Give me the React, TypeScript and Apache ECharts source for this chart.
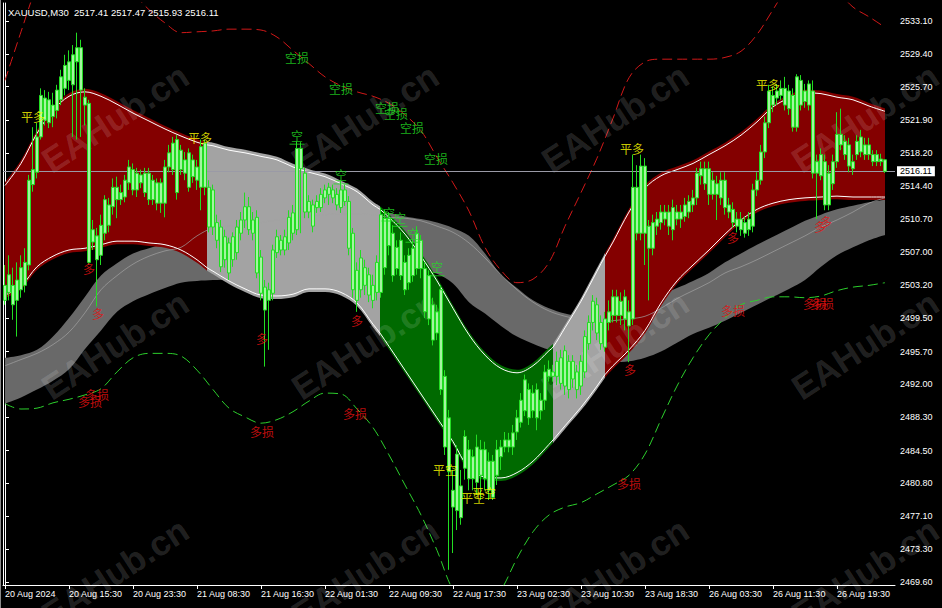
import React, { useEffect, useRef } from "react";
import * as echarts from "echarts";

const symbolName = "XAUUSD,M30";
const xTickLabels = [
  "20 Aug 2024", "20 Aug 15:30", "20 Aug 23:30", "21 Aug 08:30", "21 Aug 16:30",
  "22 Aug 01:30", "22 Aug 09:30", "22 Aug 17:30", "23 Aug 02:30", "23 Aug 10:30",
  "23 Aug 18:30", "26 Aug 03:30", "26 Aug 11:30", "26 Aug 19:30",
];
const yTickValues = [
  2469.6, 2473.3, 2477.1, 2480.8, 2484.5, 2488.3, 2492.0, 2495.7, 2499.5,
  2503.2, 2507.0, 2510.7, 2514.4, 2518.2, 2521.9, 2525.7, 2529.4, 2533.1,
];
const barsPerLabel = 16;
const slotCount = 223;
const yMin = 2469.28;
const yMax = 2535.16;

// [open, close, low, high]
const candles = [
  [2503.2,2501.5,2501.0,2505.5],[2502.4,2504.4,2501.5,2506.6],[2503.2,2501.0,2499.3,2505.2],[2501.5,2503.8,2497.4,2505.8],[2502.7,2505.2,2501.8,2506.6],
  [2503.2,2505.8,2502.4,2507.4],[2505.5,2515.1,2504.9,2515.7],[2514.6,2516.3,2513.8,2521.1],[2516.0,2520.0,2515.3,2521.6],[2520.0,2524.7,2519.7,2525.5],
  [2524.4,2521.9,2521.3,2525.3],[2521.6,2524.2,2521.0,2525.1],[2523.6,2522.3,2521.1,2525.0],[2523.0,2525.3,2522.1,2525.9],[2524.2,2526.8,2523.6,2527.6],
  [2525.5,2528.1,2524.7,2529.3],[2528.5,2526.4,2525.3,2529.8],[2525.9,2529.3,2520.0,2530.4],[2528.5,2530.1,2519.7,2531.8],[2530.1,2525.3,2520.0,2531.0],
  [2524.5,2523.6,2521.3,2525.5],[2523.8,2505.8,2505.5,2524.2],[2508.1,2509.5,2507.2,2510.6],[2508.8,2506.1,2500.8,2509.7],[2506.6,2510.0,2505.5,2511.2],
  [2509.1,2512.9,2508.3,2513.4],[2512.3,2510.0,2509.2,2513.1],[2512.1,2514.3,2511.2,2515.3],[2514.3,2512.9,2510.8,2515.5],[2512.9,2513.7,2512.3,2514.6],
  [2513.2,2515.1,2512.6,2515.7],[2514.8,2516.6,2514.0,2517.4],[2516.3,2514.0,2513.4,2517.0],[2514.0,2515.9,2513.2,2516.5],[2515.7,2514.8,2514.2,2516.3],
  [2513.7,2515.9,2513.2,2516.5],[2515.9,2512.9,2512.3,2516.5],[2512.9,2515.1,2512.3,2515.7],[2514.8,2512.5,2511.7,2515.3],[2512.5,2514.8,2511.4,2515.3],
  [2512.5,2516.6,2510.9,2517.4],[2516.6,2518.2,2516.0,2519.1],[2516.3,2519.3,2515.7,2520.0],[2519.7,2513.7,2512.9,2520.2],[2516.3,2518.5,2515.7,2519.1],
  [2517.4,2515.9,2515.1,2518.3],[2514.3,2518.2,2513.8,2518.7],[2517.4,2515.5,2514.8,2518.0],[2516.6,2515.1,2514.0,2517.4],[2514.3,2518.9,2511.7,2519.7],
  [2519.3,2514.3,2513.4,2519.7],[2514.3,2509.8,2509.2,2515.1],[2509.8,2514.0,2508.9,2514.6],[2510.3,2508.3,2507.4,2511.2],[2509.8,2505.3,2504.7,2510.6],
  [2506.1,2508.7,2505.2,2509.5],[2508.0,2504.6,2503.8,2508.6],[2506.1,2508.7,2505.3,2509.2],[2506.9,2509.8,2506.1,2510.6],[2509.1,2510.6,2508.3,2511.5],
  [2510.6,2512.1,2509.7,2513.7],[2512.1,2509.5,2508.9,2513.2],[2510.6,2509.1,2508.3,2511.5],[2510.9,2504.6,2504.0,2511.7],[2506.4,2502.3,2501.5,2507.2],
  [2503.0,2500.4,2494.0,2503.8],[2501.5,2502.7,2495.9,2503.5],[2502.3,2507.2,2501.5,2507.8],[2506.9,2508.7,2506.3,2509.5],[2508.3,2507.2,2506.6,2508.9],
  [2507.2,2508.7,2506.6,2509.5],[2508.0,2510.9,2507.2,2511.7],[2511.4,2509.1,2508.3,2512.3],[2509.5,2518.7,2508.9,2519.5],[2518.7,2516.4,2509.1,2519.4],
  [2515.9,2511.5,2510.8,2516.5],[2511.5,2512.7,2510.8,2513.4],[2512.3,2509.9,2509.2,2512.9],[2512.0,2512.7,2511.4,2513.4],[2512.0,2513.5,2511.5,2514.2],
  [2513.1,2514.0,2512.5,2514.6],[2513.5,2514.3,2512.3,2514.8],[2514.0,2513.1,2512.5,2514.6],[2513.5,2512.3,2511.7,2514.2],[2512.0,2514.0,2511.4,2515.1],
  [2514.0,2512.7,2512.2,2514.6],[2512.7,2507.4,2506.6,2513.3],[2509.1,2502.7,2501.8,2509.7],[2504.9,2501.5,2500.2,2505.8],[2502.7,2506.3,2501.8,2507.2],
  [2505.2,2503.2,2502.1,2506.1],[2504.4,2502.1,2501.3,2505.2],[2503.2,2501.5,2500.6,2504.4],[2502.4,2505.8,2501.5,2506.6],[2502.4,2511.2,2501.8,2512.0],
  [2510.8,2505.2,2504.4,2511.7],[2507.7,2510.8,2506.6,2511.5],[2509.1,2504.3,2503.6,2510.0],[2505.1,2507.5,2504.4,2508.3],[2508.3,2504.3,2503.8,2509.2],
  [2505.8,2502.7,2502.1,2506.6],[2503.5,2506.6,2502.7,2507.4],[2504.3,2507.4,2503.6,2508.3],[2505.1,2509.1,2504.4,2509.9],[2508.3,2505.1,2504.0,2508.9],
  [2505.1,2500.2,2499.5,2505.8],[2504.3,2499.4,2498.7,2504.9],[2501.0,2497.0,2496.4,2501.8],[2497.8,2500.2,2497.0,2501.0],[2502.7,2491.4,2490.8,2503.2],
  [2492.9,2484.9,2484.0,2493.6],[2488.2,2482.1,2471.0,2489.1],[2480.0,2478.1,2472.9,2482.3],[2477.7,2484.1,2475.5,2485.1],[2480.5,2476.9,2476.1,2482.3],
  [2482.5,2486.1,2481.2,2486.8],[2484.6,2481.3,2480.0,2485.7],[2481.3,2483.8,2480.0,2484.6],[2484.9,2480.9,2479.5,2486.3],[2481.7,2484.6,2478.9,2485.7],
  [2484.6,2481.3,2480.0,2485.5],[2483.3,2480.0,2478.9,2484.3],[2479.2,2483.3,2478.9,2484.0],[2481.7,2484.6,2480.6,2485.7],[2483.8,2484.9,2482.3,2485.7],
  [2484.9,2485.7,2484.3,2486.6],[2485.7,2484.9,2484.3,2486.5],[2484.9,2486.5,2484.0,2487.4],[2486.6,2488.2,2485.7,2489.1],[2487.7,2490.2,2487.1,2491.0],
  [2489.0,2492.5,2488.4,2493.1],[2491.4,2488.2,2487.4,2492.1],[2489.0,2491.0,2488.2,2491.9],[2491.4,2488.2,2486.8,2492.1],[2489.0,2490.2,2488.0,2491.0],
  [2490.2,2493.4,2489.1,2494.2],[2492.9,2493.7,2492.3,2494.7],[2493.4,2492.9,2492.3,2494.2],[2492.9,2494.6,2491.9,2495.7],[2495.0,2492.1,2491.4,2495.9],
  [2491.8,2495.8,2490.8,2496.4],[2494.6,2491.4,2490.4,2495.3],[2492.6,2494.6,2491.6,2495.3],[2493.4,2491.4,2490.4,2494.2],[2491.8,2494.6,2490.8,2495.3],
  [2493.4,2497.4,2492.7,2498.1],[2496.6,2499.0,2495.9,2499.8],[2499.0,2501.4,2498.1,2502.1],[2501.0,2497.8,2497.0,2501.8],[2499.0,2496.6,2495.9,2499.8],
  [2496.2,2499.4,2495.7,2500.2],[2499.0,2500.2,2498.1,2501.5],[2499.8,2501.9,2499.0,2502.7],[2501.9,2499.8,2499.0,2502.7],[2499.8,2501.4,2498.7,2502.4],
  [2501.9,2499.4,2498.1,2502.7],[2500.2,2498.6,2494.5,2501.5],[2499.4,2514.3,2498.7,2518.0],[2514.3,2509.1,2508.3,2516.8],[2509.1,2516.7,2508.3,2518.0],
  [2516.7,2509.1,2505.5,2517.6],[2509.9,2507.4,2501.5,2510.6],[2507.4,2510.3,2506.6,2511.2],[2509.9,2510.7,2508.9,2511.5],[2510.3,2511.5,2509.5,2512.3],
  [2511.5,2510.7,2510.0,2512.3],[2509.9,2511.5,2508.9,2512.3],[2512.0,2509.5,2508.3,2512.9],[2510.7,2511.5,2510.0,2512.3],[2511.5,2510.7,2509.7,2512.3],
  [2511.0,2512.3,2510.4,2513.1],[2511.5,2512.7,2510.8,2513.4],[2512.3,2513.1,2511.5,2514.0],[2513.1,2515.9,2512.3,2516.5],[2515.6,2516.4,2514.6,2517.2],
  [2516.4,2514.7,2514.0,2517.2],[2513.5,2516.4,2512.3,2517.2],[2515.1,2513.5,2512.9,2516.0],[2513.5,2514.7,2510.6,2515.6],[2513.1,2515.1,2512.3,2516.0],
  [2515.1,2512.0,2511.2,2516.0],[2512.3,2511.5,2510.8,2513.1],[2511.8,2510.3,2509.7,2512.6],[2510.7,2509.9,2509.2,2511.5],[2510.7,2509.5,2508.8,2511.5],
  [2509.1,2510.3,2508.6,2511.0],[2509.5,2510.7,2508.8,2511.5],[2509.9,2514.0,2509.2,2514.7],[2514.0,2515.1,2513.3,2516.0],[2515.1,2518.3,2514.6,2519.1],
  [2518.3,2521.6,2517.6,2522.3],[2521.6,2525.2,2521.0,2525.9],[2524.7,2523.6,2522.8,2525.7],[2524.4,2525.2,2523.6,2526.0],[2524.7,2525.5,2524.2,2526.4],
  [2525.5,2523.6,2523.0,2526.8],[2523.2,2525.2,2522.5,2525.9],[2524.7,2521.1,2520.6,2525.5],[2521.1,2526.8,2520.6,2527.1],[2526.4,2523.6,2523.0,2527.0],
  [2524.0,2525.2,2523.3,2526.0],[2523.6,2526.0,2523.0,2526.4],[2525.2,2515.9,2515.3,2526.4],[2515.9,2517.2,2510.7,2518.0],[2518.0,2515.6,2515.1,2518.7],
  [2517.2,2512.3,2511.7,2518.0],[2512.3,2515.9,2511.7,2516.8],[2514.7,2517.2,2514.0,2518.0],[2517.2,2520.3,2516.5,2522.8],[2520.3,2519.1,2518.5,2523.2],
  [2519.5,2518.0,2517.4,2520.2],[2519.1,2516.7,2516.0,2519.9],[2517.2,2516.4,2515.7,2518.0],[2518.0,2519.5,2517.4,2520.2],[2518.3,2520.0,2517.7,2520.8],
  [2519.1,2518.0,2517.4,2519.9],[2518.0,2519.1,2517.4,2519.9],[2518.0,2517.2,2516.7,2518.5],[2517.2,2518.0,2516.7,2518.5],[2517.5,2517.2,2516.7,2518.1],
  [2517.41,2516.11,2515.93,2517.47],
];

// channel (white lines) sampled at bar positions
const bandX = [
  0,4,8,12,16,20,24,28,32,36,40,44,48,50.5,52,56,60,64,68,72,76,80,84,88,92,93.75,
  96,100,104,108,112,116,120,124,128,132,136,137,140,144,148,150,
  152,156,160,164,168,172,176,180,184,188,192,196,200,204,208,212,216,220,
];
const bandUpper = [
  2514.5,2517.0,2520.4,2523.0,2524.6,2525.1,2524.6,2523.7,2522.7,2521.8,2520.9,2520.1,2519.4,2519.1,2519.0,2518.5,2518.2,2517.8,2517.4,2516.6,2516.0,2515.5,2514.7,2513.8,2512.3,2511.8,
  2510.9,2509.0,2506.5,2503.7,2500.6,2497.6,2495.3,2493.8,2493.3,2494.1,2495.8,2496.2,2498.4,2501.4,2504.8,2506.5,
  2508.1,2511.5,2514.2,2515.6,2516.3,2517.0,2518.0,2519.0,2520.2,2521.7,2523.4,2524.4,2525.0,2524.9,2524.5,2524.2,2523.5,2522.9,
];
const bandLower = [
  2502.1,2503.1,2505.3,2506.5,2507.2,2507.4,2507.8,2508.2,2508.2,2508.0,2507.8,2507.2,2506.1,2505.2,2504.8,2503.7,2502.8,2502.1,2502.0,2502.2,2502.8,2502.8,2502.4,2501.2,2498.8,2497.8,
  2496.3,2493.6,2490.9,2488.2,2485.5,2482.5,2481.5,2481.4,2482.0,2483.3,2485.2,2485.7,2487.3,2489.4,2491.8,2493.1,
  2494.1,2495.9,2498.1,2501.2,2503.7,2505.5,2507.2,2509.0,2510.6,2511.8,2512.5,2512.9,2513.1,2513.2,2513.3,2513.2,2513.2,2513.2,
];
// regime boundaries (bar units) and kinds
const regimeBreaks = [0, 50.5, 93.75, 137, 150, 220];
const regimeKinds = ["long", "flat", "short", "flat", "long"];

// slow channel + envelopes, every 4 bars
const envX = [
  0,4,8,12,16,20,24,28,32,36,40,44,48,52,56,60,64,68,72,76,80,84,88,92,96,100,104,108,
  112,116,120,124,128,132,136,140,144,148,152,156,160,164,168,172,176,180,184,188,192,196,200,204,208,212,216,220,
];
const slowTop = [
  2495.0,2495.3,2495.9,2497.4,2499.5,2501.9,2504.3,2505.7,2506.8,2507.4,2507.9,2508.1,2508.3,2508.6,2508.9,2509.2,2509.6,2510.0,2510.4,2510.7,2511.0,2511.4,2511.6,2511.7,2511.4,2511.0,2510.7,2510.3,
  2509.7,2508.8,2506.8,2504.4,2502.9,2501.5,2500.6,2500.0,2499.7,2499.8,2500.3,2501.0,2501.5,2502.2,2502.9,2503.7,2504.6,2505.8,2506.8,2507.8,2508.7,2509.6,2510.5,2511.2,2511.8,2512.2,2512.6,2512.9,
];
const slowBottom = [
  2489.8,2490.5,2491.4,2492.4,2493.7,2496.0,2498.1,2500.2,2501.4,2502.2,2502.9,2503.5,2503.7,2503.8,2503.9,2504.0,2504.3,2504.5,2504.7,2504.9,2505.2,2505.3,2505.4,2505.4,2505.3,2505.2,2504.9,2504.5,
  2503.4,2501.3,2500.0,2498.6,2497.4,2496.6,2495.9,2495.2,2494.7,2494.5,2494.5,2494.6,2495.0,2495.7,2496.7,2497.7,2498.4,2499.2,2500.1,2501.0,2501.9,2502.8,2503.8,2505.3,2506.6,2507.5,2508.3,2508.9,
];
const slowMid = [
  2494.1,2494.8,2495.5,2496.5,2497.9,2500.1,2502.7,2504.3,2505.6,2506.5,2507.1,2507.5,2508.8,2509.7,2509.9,2510.0,2510.3,2510.6,2510.8,2511.0,2511.2,2511.3,2511.3,2511.2,2510.9,2510.8,2510.5,2509.9,
  2509.2,2508.0,2506.3,2504.4,2502.7,2501.3,2500.3,2499.7,2499.3,2499.0,2499.2,2499.4,2499.7,2500.6,2501.7,2502.6,2503.5,2504.6,2505.3,2506.1,2507.0,2507.9,2508.8,2509.8,2510.6,2511.5,2512.5,2513.1,
];
const upperStop = [
  2526.4,2531.9,2537.2,2541.2,2543.4,2544.0,2542.3,2539.5,2536.4,2534.4,2532.9,2531.8,2531.9,2532.0,2532.2,2532.2,2532.1,2531.3,2529.8,2528.3,2526.8,2525.8,2525.1,2524.6,2523.8,2522.5,2520.7,2517.7,
  2514.8,2511.6,2507.5,2504.9,2503.5,2503.9,2505.8,2509.9,2513.7,2517.6,2522.1,2526.7,2528.5,2528.8,2528.8,2528.8,2528.8,2529.0,2529.7,2531.6,2534.4,2537.2,2538.9,2538.3,2536.6,2534.7,2533.6,2532.4,
];
const lowerStop = [
  2489.8,2489.2,2489.3,2489.9,2490.3,2490.8,2491.5,2493.4,2495.0,2495.5,2495.5,2495.2,2493.6,2491.4,2489.3,2488.3,2487.6,2488.0,2488.9,2490.1,2491.0,2490.9,2489.2,2487.1,2484.0,2480.6,2477.2,2473.2,
  2468.7,2466.5,2466.5,2468.7,2472.3,2475.3,2477.2,2478.1,2478.6,2479.6,2480.6,2481.7,2484.1,2488.0,2491.8,2495.0,2497.6,2499.5,2501.0,2501.5,2501.9,2501.9,2501.8,2502.0,2502.6,2503.0,2503.2,2503.5,
];

// signal labels [bar, price]
const closeLongMarks = [[7, 2522.3], [48.75, 2519.9], [156.75, 2518.7], [190.75, 2525.9]];
const closeShortMarks = [[110, 2482.4], [117, 2479.2], [119.75, 2479.8]];
const shortMarks = [[73, 2520.2], [84, 2515.7], [96, 2511.5], [98.75, 2510.9], [102, 2509.1], [108, 2505.3]];
const shortStopMarks = [[73, 2529.0], [84, 2525.5], [95.5, 2523.3], [97.75, 2522.6], [101.75, 2521.1], [107.75, 2517.6]];
const longMarks = [[21, 2505.1], [23.25, 2500.0], [64.25, 2497.2], [88, 2499.2], [156.25, 2493.7], [182, 2508.6], [203.75, 2509.9], [205.25, 2510.4]];
const longStopMarks = [[21.25, 2490.0], [23, 2490.8], [64.25, 2486.6], [87.5, 2488.7], [156, 2480.8], [182, 2500.3], [202.5, 2501.2], [204.25, 2501.2]];

const FILL: Record<string, string> = { long: "#840000", flat: "#a3a3a3", short: "#006a00" };
const RIM = 0.35;
const SMOOTH = 0.35;
const UI_FONT = "Liberation Sans";
const CJK_FONT = "Noto Sans CJK SC";

function pairs(xs: number[], ys: number[]) {
  return xs.map((x, i) => [x, ys[i]]);
}

// stacked band pieces: value first so that the value dimension is the stacked one
function bandPair(stack: string, xs: number[], lo: number[], hi: number[], color: string, z: number) {
  const common = {
    type: "line", xAxisIndex: 1, yAxisIndex: 0, stack, symbol: "none", smooth: SMOOTH,
    dimensions: ["v", "x"], encode: { x: "x", y: "v" },
    lineStyle: { opacity: 0, width: 0 }, silent: true, z,
  };
  return [
    { ...common, data: xs.map((x, i) => [lo[i], x]) },
    { ...common, data: xs.map((x, i) => [hi[i] - lo[i], x]), areaStyle: { color, opacity: 1 } },
  ];
}

function buildOption() {
  const last = candles[candles.length - 1];
  const f2 = (v: number) => v.toFixed(2);
  const cats = Array.from({ length: slotCount }, (_, i) => String(i));
  const series: any[] = [];

  series.push(...bandPair("slow", envX, slowBottom, slowTop, "#696969", 1));

  regimeKinds.forEach((kind, k) => {
    const from = regimeBreaks[k];
    const to = regimeBreaks[k + 1];
    const idx = bandX.map((_, i) => i).filter((i) => bandX[i] >= from && bandX[i] <= to);
    series.push(
      ...bandPair(
        "fill" + k,
        idx.map((i) => bandX[i]),
        idx.map((i) => bandLower[i] - RIM),
        idx.map((i) => bandUpper[i] + RIM),
        FILL[kind],
        2,
      ),
    );
  });

  const line = (data: number[][], color: string, type: any, z: number, opacity = 1) => ({
    type: "line", xAxisIndex: 1, yAxisIndex: 0, symbol: "none", smooth: SMOOTH, data,
    lineStyle: { color, width: 1, type, opacity }, silent: true, z,
  });
  series.push(line(pairs(envX, slowMid), "#a3a3a3", "solid", 3, 0.7));
  series.push(line(pairs(bandX, bandUpper), "#ffffff", "solid", 3));
  series.push(line(pairs(bandX, bandLower), "#ffffff", "solid", 3));
  series.push(line(pairs(envX, upperStop), "#d01818", [10, 5], 3));
  series.push(line(pairs(envX, lowerStop), "#2ccf2c", [10, 5], 3));

  series.push({
    type: "candlestick", xAxisIndex: 0, yAxisIndex: 0, data: candles, barWidth: 3, z: 5, silent: true,
    itemStyle: {
      color: "#a4f5a0", color0: "#a4f5a0", borderColor: "#22dd22", borderColor0: "#22dd22", borderWidth: 1,
    },
    markLine: {
      symbol: "none", silent: true, animation: false,
      data: [{ yAxis: last[1] }],
      lineStyle: { color: "#9a9aa6", width: 1, type: "solid" },
      label: {
        show: true, position: "end", distance: 2, formatter: () => f2(last[1]),
        backgroundColor: "#ffffff", color: "#000000", padding: [1, 3, 0, 3],
        fontSize: 9, fontFamily: UI_FONT,
      },
    },
  });

  const marks = (data: number[][], text: string, color: string) => ({
    type: "scatter", xAxisIndex: 1, yAxisIndex: 0, symbol: "circle", symbolSize: 1,
    data: data.map((d) => ({ value: d })),
    itemStyle: { color: "rgba(0,0,0,0)" }, silent: true, z: 6,
    label: { show: true, position: "inside", formatter: text, color, fontSize: 12, fontFamily: CJK_FONT },
  });
  series.push(marks(closeLongMarks, "平多", "#ffff00"));
  series.push(marks(closeShortMarks, "平空", "#ffff00"));
  series.push(marks(shortMarks, "空", "#22dd22"));
  series.push(marks(shortStopMarks, "空损", "#22dd22"));
  series.push(marks(longMarks, "多", "#e81010"));
  series.push(marks(longStopMarks, "多损", "#e81010"));
  series.push({
    type: "scatter", xAxisIndex: 1, yAxisIndex: 0, symbol: "rect", symbolSize: [15, 1], symbolOffset: [0, 9],
    data: shortMarks.map((d) => ({ value: d })), itemStyle: { color: "#22dd22" }, silent: true, z: 6,
  });

  const wm: any[] = [];
  [118, 345, 572].forEach((y) => {
    [115, 365, 615, 865].forEach((x) => {
      wm.push({
        type: "text", x, y, rotation: 0.58, z: 4, silent: true,
        style: {
          text: "EAHub.cn", fill: "rgba(255,255,255,0.15)", fontSize: 35, fontWeight: "bold",
          fontFamily: UI_FONT, align: "center", verticalAlign: "middle",
        },
      });
    });
  });
  wm.push({ type: "line", z: 4, silent: true, shape: { x1: 0.5, y1: 0, x2: 0.5, y2: 608 }, style: { stroke: "#8a8a8a", lineWidth: 1 } });

  return {
    animation: false,
    backgroundColor: "#000000",
    title: {
      text: `${symbolName}  ${f2(last[0])} ${f2(last[3])} ${f2(last[2])} ${f2(last[1])}`,
      left: 8, top: 7, padding: 0,
      textStyle: { color: "#ffffff", fontSize: 9.5, fontWeight: "normal", fontFamily: UI_FONT },
    },
    grid: { left: 3, right: 47, top: 3, bottom: 23, containLabel: false, outerBoundsMode: "none" },
    xAxis: [
      {
        type: "category", data: cats, boundaryGap: true,
        axisLine: { show: true, lineStyle: { color: "#ffffff", width: 1 } },
        axisTick: { show: true, interval: barsPerLabel - 1, alignWithLabel: true, length: 4, lineStyle: { color: "#ffffff" } },
        axisLabel: {
          interval: barsPerLabel - 1, align: "left", margin: 4, color: "#ffffff", fontSize: 9, fontFamily: UI_FONT,
          formatter: (_v: string, i: number) => xTickLabels[i / barsPerLabel] ?? "",
        },
        splitLine: { show: false },
      },
      { type: "value", min: -0.5, max: slotCount - 0.5, show: false },
    ],
    yAxis: [
      {
        type: "value", position: "right", min: yMin, max: yMax, scale: true,
        axisLine: { show: true, lineStyle: { color: "#ffffff", width: 1 } },
        axisTick: { show: true, length: 4, inside: false, customValues: yTickValues, lineStyle: { color: "#ffffff" } },
        axisLabel: {
          customValues: yTickValues, formatter: (v: number) => v.toFixed(2),
          color: "#ffffff", fontSize: 9, margin: 5, fontFamily: UI_FONT,
        },
        splitLine: { show: false },
      },
      {
        type: "value", position: "left", min: yMin, max: yMax,
        axisLine: { show: true, lineStyle: { color: "#ffffff", width: 1 } },
        axisTick: { show: false }, axisLabel: { show: false }, splitLine: { show: false },
      },
    ],
    graphic: wm,
    series,
  };
}

export default function App() {
  const ref = useRef<HTMLDivElement>(null);
  useEffect(() => {
    if (!ref.current) return;
    const chart = echarts.init(ref.current, undefined, { renderer: "svg" });
    chart.setOption(buildOption() as any);
    return () => chart.dispose();
  }, []);
  return (
    <div
      ref={ref}
      style={{ position: "absolute", left: 0, top: 0, width: 942, height: 608, background: "#000" }}
    />
  );
}
